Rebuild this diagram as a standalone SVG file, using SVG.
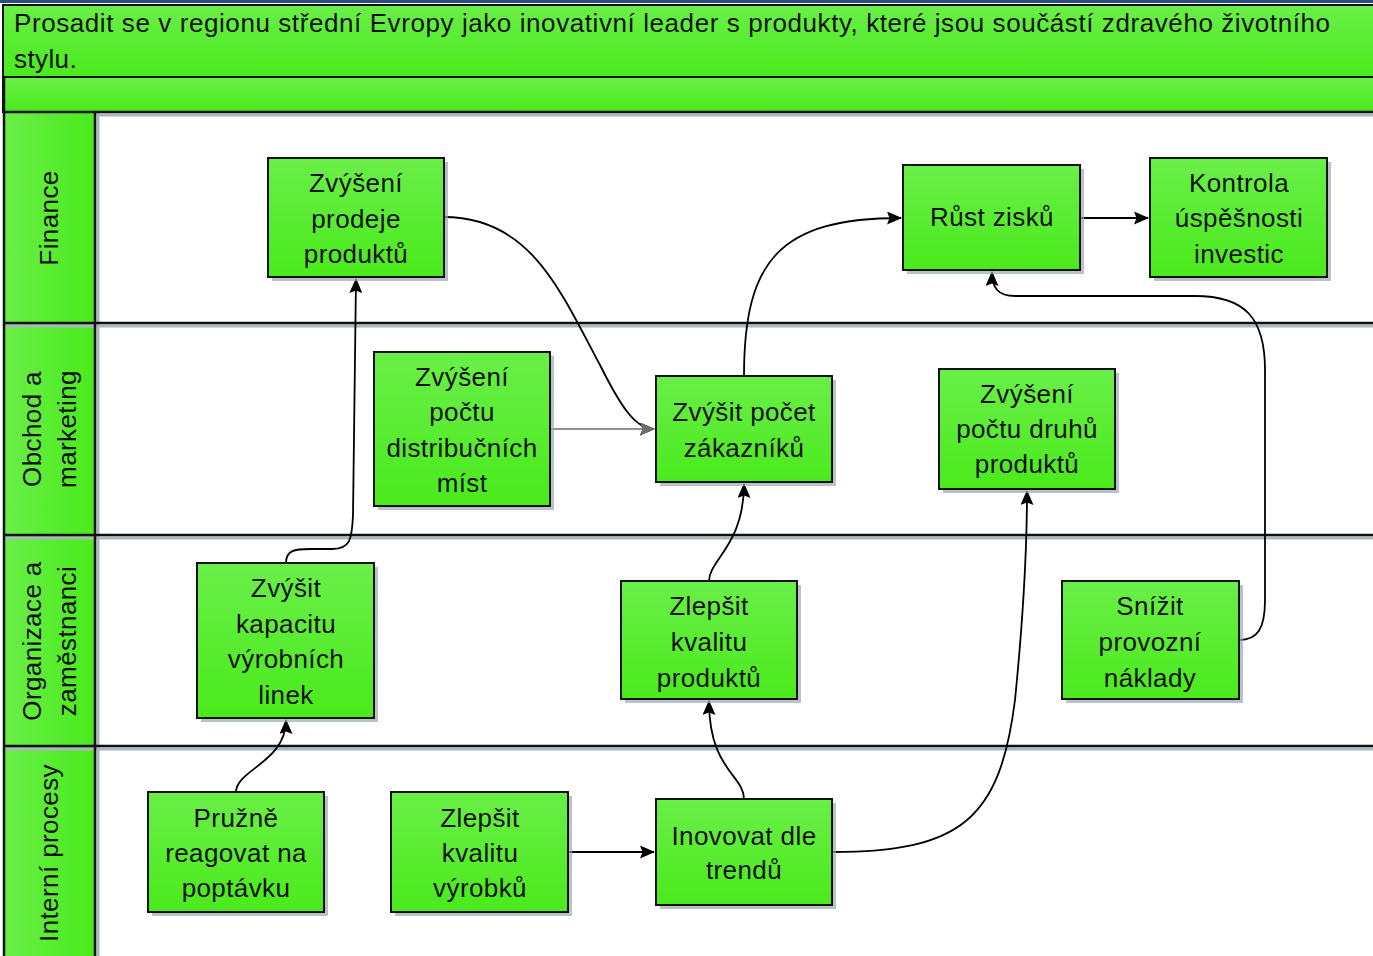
<svg xmlns="http://www.w3.org/2000/svg" width="1373" height="956" viewBox="0 0 1373 956">
<defs>
<linearGradient id="gv" x1="0" y1="0" x2="0" y2="1"><stop offset="0" stop-color="#6aef48"/><stop offset="1" stop-color="#4aea1c"/></linearGradient>
<linearGradient id="gh" x1="0" y1="0" x2="1" y2="0"><stop offset="0" stop-color="#6aef48"/><stop offset="1" stop-color="#4aea1c"/></linearGradient>
<marker id="ah" viewBox="0 0 15 13" refX="14" refY="6.5" markerWidth="15" markerHeight="13" markerUnits="userSpaceOnUse" orient="auto"><path d="M0,0 L15,6.5 L0,13 L2.5,6.5 Z" fill="#000"/></marker>
<marker id="ag" viewBox="0 0 15 13" refX="14" refY="6.5" markerWidth="15" markerHeight="13" markerUnits="userSpaceOnUse" orient="auto"><path d="M0,0 L15,6.5 L0,13 L2.5,6.5 Z" fill="#6e6e6e"/></marker>
</defs>
<style>
.t{font-family:"Liberation Sans",Arial,sans-serif;font-size:26px;fill:#111;letter-spacing:0.4px}
.c{text-anchor:middle}
.box{fill:url(#gv);stroke:#111;stroke-width:2}
.sh{fill:#9aaab2;opacity:0.7}
.sep{stroke:#111;stroke-width:2.5}
.seps{stroke:#a9b8c0;stroke-width:3}
.cn{fill:none;stroke:#000;stroke-width:1.8;marker-end:url(#ah)}
</style>
<rect width="1373" height="956" fill="#fff"/>
<rect x="0" y="0" width="1373" height="3" fill="#27507a"/>
<g id="header">
<rect x="3" y="5" width="1372" height="72" fill="url(#gv)" stroke="#111" stroke-width="2"/>
<rect x="3" y="77" width="1372" height="35" fill="url(#gv)" stroke="#111" stroke-width="2"/>
<text class="t" x="14" y="32" textLength="1316" lengthAdjust="spacing" style="letter-spacing:0">Prosadit se v regionu střední Evropy jako inovativní leader s produkty, které jsou součástí zdravého životního</text>
<text class="t" x="14" y="68">stylu.</text>
</g>
<g id="lanes">
<rect x="3" y="112" width="92" height="844" fill="url(#gh)"/>
<line class="seps" x1="97" y1="115" x2="1373" y2="115"/>
<line class="seps" x1="3" y1="326" x2="1373" y2="326"/>
<line class="seps" x1="3" y1="538" x2="1373" y2="538"/>
<line class="seps" x1="3" y1="749" x2="1373" y2="749"/>
<line class="seps" x1="98" y1="112" x2="98" y2="956"/>
<line class="sep" x1="3" y1="112" x2="1373" y2="112"/>
<line class="sep" x1="3" y1="323" x2="1373" y2="323"/>
<line class="sep" x1="3" y1="535" x2="1373" y2="535"/>
<line class="sep" x1="3" y1="746" x2="1373" y2="746"/>
<line class="sep" x1="95" y1="112" x2="95" y2="956"/>
<line class="sep" x1="4" y1="77" x2="4" y2="956"/>
<text class="t c" transform="translate(58,218) rotate(-90)">Finance</text>
<text class="t c" transform="translate(41,429) rotate(-90)">Obchod a</text>
<text class="t c" transform="translate(76,429) rotate(-90)">marketing</text>
<text class="t c" transform="translate(41,641) rotate(-90)">Organizace a</text>
<text class="t c" transform="translate(76,641) rotate(-90)">zaměstnanci</text>
<text class="t c" transform="translate(58,853) rotate(-90)">Interní procesy</text>
</g>
<g id="connectors">
<path class="cn" d="M236,792 C236,770 286,762 286,720"/>
<path class="cn" d="M286,563 C286,550 295,549 310,549 L332,549 C350,549 352,540 353,515 L356,279"/>
<path class="cn" d="M444,217 C530,217 560,290 600,365 C620,405 635,429 654,429"/>
<path d="M550,429 L654,429" fill="none" stroke="#6e6e6e" stroke-width="1.5" marker-end="url(#ag)"/>
<path class="cn" d="M744,376 C744,260 780,218 901,218"/>
<path class="cn" d="M1080,218 L1148,218"/>
<path class="cn" d="M1239,640 C1258,640 1265,628 1265,600 L1265,370 C1265,318 1245,296 1195,296 L1015,296 C998,296 992,288 992,272"/>
<path class="cn" d="M709,581 C709,560 744,545 744,484"/>
<path class="cn" d="M744,799 C744,775 709,770 709,701"/>
<path class="cn" d="M568,852 L654,852"/>
<path class="cn" d="M832,852 C960,852 1000,820 1015,700 C1024,610 1027,540 1027,491"/>
</g>
<g id="n1"><rect class="sh" x="272" y="162" width="176" height="119"/><rect class="box" x="268" y="158" width="176" height="119"/>
<text class="t c" x="356" y="192">Zvýšení</text><text class="t c" x="356" y="228">prodeje</text><text class="t c" x="356" y="263">produktů</text></g>
<g id="n2"><rect class="sh" x="907" y="169" width="177" height="105"/><rect class="box" x="903" y="165" width="177" height="105"/>
<text class="t c" x="992" y="226">Růst zisků</text></g>
<g id="n3"><rect class="sh" x="1154" y="162" width="177" height="119"/><rect class="box" x="1150" y="158" width="177" height="119"/>
<text class="t c" x="1239" y="192">Kontrola</text><text class="t c" x="1239" y="227">úspěšnosti</text><text class="t c" x="1239" y="263">investic</text></g>
<g id="n4"><rect class="sh" x="378" y="356" width="176" height="154"/><rect class="box" x="374" y="352" width="176" height="154"/>
<text class="t c" x="462" y="386">Zvýšení</text><text class="t c" x="462" y="421">počtu</text><text class="t c" x="462" y="457">distribučních</text><text class="t c" x="462" y="492">míst</text></g>
<g id="n5"><rect class="sh" x="660" y="380" width="176" height="106"/><rect class="box" x="656" y="376" width="176" height="106"/>
<text class="t c" x="744" y="421">Zvýšit počet</text><text class="t c" x="744" y="457">zákazníků</text></g>
<g id="n6"><rect class="sh" x="943" y="373" width="176" height="120"/><rect class="box" x="939" y="369" width="176" height="120"/>
<text class="t c" x="1027" y="403">Zvýšení</text><text class="t c" x="1027" y="438">počtu druhů</text><text class="t c" x="1027" y="473">produktů</text></g>
<g id="n7"><rect class="sh" x="201" y="567" width="177" height="155"/><rect class="box" x="197" y="563" width="177" height="155"/>
<text class="t c" x="286" y="597">Zvýšit</text><text class="t c" x="286" y="633">kapacitu</text><text class="t c" x="286" y="668">výrobních</text><text class="t c" x="286" y="704">linek</text></g>
<g id="n8"><rect class="sh" x="625" y="585" width="176" height="118"/><rect class="box" x="621" y="581" width="176" height="118"/>
<text class="t c" x="709" y="615">Zlepšit</text><text class="t c" x="709" y="651">kvalitu</text><text class="t c" x="709" y="687">produktů</text></g>
<g id="n9"><rect class="sh" x="1066" y="585" width="177" height="118"/><rect class="box" x="1062" y="581" width="177" height="118"/>
<text class="t c" x="1150" y="615">Snížit</text><text class="t c" x="1150" y="651">provozní</text><text class="t c" x="1150" y="687">náklady</text></g>
<g id="n10"><rect class="sh" x="152" y="796" width="176" height="120"/><rect class="box" x="148" y="792" width="176" height="120"/>
<text class="t c" x="236" y="827">Pružně</text><text class="t c" x="236" y="862">reagovat na</text><text class="t c" x="236" y="897">poptávku</text></g>
<g id="n11"><rect class="sh" x="395" y="796" width="177" height="120"/><rect class="box" x="391" y="792" width="177" height="120"/>
<text class="t c" x="480" y="827">Zlepšit</text><text class="t c" x="480" y="862">kvalitu</text><text class="t c" x="480" y="897">výrobků</text></g>
<g id="n12"><rect class="sh" x="660" y="803" width="176" height="106"/><rect class="box" x="656" y="799" width="176" height="106"/>
<text class="t c" x="744" y="845">Inovovat dle</text><text class="t c" x="744" y="879">trendů</text></g>
</svg>
